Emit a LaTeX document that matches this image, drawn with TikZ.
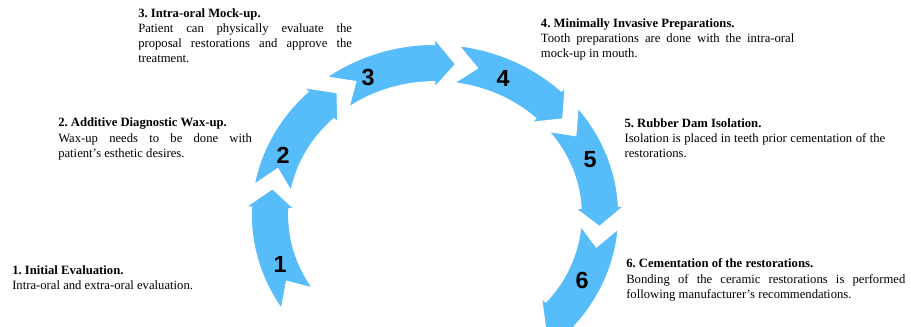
\documentclass[tikz,border=0pt]{standalone}
\usepackage{fontspec}
\setmainfont{Liberation Serif}
\newfontfamily\numfont{Liberation Sans}
\usetikzlibrary{calc}
\definecolor{arcblue}{RGB}{86,188,250}
\frenchspacing

\begin{document}
\begin{tikzpicture}[
        x=0.75pt, y=-0.75pt,
        every node/.style={font=\fontsize{9.5}{11.3}\selectfont},
        note/.style={anchor=base west, inner sep=0pt, text width=#1, align=justify},
        num/.style={font=\numfont\bfseries\fontsize{17.5}{17.5}\selectfont, inner sep=0pt},
        seg/.style={fill=arcblue, draw=white, line width=1.3pt, line join=miter}
    ]
    \useasboundingbox (0,0) rectangle (911,327);

% --- Ring of six arrows ---
    \coordinate (c) at (435,215);
    \def\rx{165} \def\ry{152}
    \pgfmathsetmacro\rxo{\rx+19} \pgfmathsetmacro\ryo{\ry+19}
    \pgfmathsetmacro\rxi{\rx-19} \pgfmathsetmacro\ryi{\ry-19}
    \pgfmathsetmacro\rxwo{\rx+25} \pgfmathsetmacro\rywo{\ry+25}
    \pgfmathsetmacro\rxwi{\rx-25} \pgfmathsetmacro\rywi{\ry-25}
    \begin{scope}[shift={(c)}]
    \foreach \k in {6,5,...,1}{
        \pgfmathsetmacro\angs{146.5+43.6*(\k-1)}
        \pgfmathsetmacro\ange{\angs+43.6}
        \pgfmathsetmacro\angn{\angs+7.5}
        \pgfmathsetmacro\angh{\ange-7.5}
        \path[seg] ({\angs}:{\rxo} and {\ryo}) -- ({\angn}:{\rx} and {\ry}) -- ({\angs}:{\rxi} and {\ryi})
            arc[start angle=\angs, end angle=\angh, x radius=\rxi, y radius=\ryi]
            -- ({\angh}:{\rxwi} and {\rywi}) -- ({\ange}:{\rx} and {\ry}) -- ({\angh}:{\rxwo} and {\rywo})
            -- ({\angh}:{\rxo} and {\ryo})
            arc[start angle=\angh, end angle=\angs, x radius=\rxo, y radius=\ryo] -- cycle;
    }
    \end{scope}

% --- Step numbers ---
    \node[num] (n1) at (280,264) {1};
    \node[num] (n2) at (283,155) {2};
    \node[num] (n3) at (368,77) {3};
    \node[num] (n4) at (503,78) {4};
    \node[num] (n5) at (590,160) {5};
    \node[num] (n6) at (582,280) {6};

% --- Step descriptions ---
    \node[note=150pt] (s1) at (12,274.4)
        {\textbf{1. Initial Evaluation.}\\
        Intra-oral and extra-oral evaluation.};
    \node[note=145.3pt] (s2) at (58,127)
        {\textbf{2. Additive Diagnostic Wax-up.}\\
        Wax-up needs to be done with\linebreak patient's esthetic desires.};
    \node[note=160.3pt] (s3) at (138,17.5)
        {\textbf{3. Intra-oral Mock-up.}\\
        Patient can physically evaluate the\linebreak proposal restorations and approve the\linebreak treatment.};
    \node[note=190pt] (s4) at (540.7,27.5)
        {\textbf{4. Minimally Invasive Preparations.}\\
        Tooth preparations are done with the intra-oral\linebreak mock-up in mouth.};
    \node[note=195.5pt] (s5) at (624.3,127.5)
        {\textbf{5. Rubber Dam Isolation.}\\
        Isolation is placed in teeth prior cementation of the\linebreak restorations.};
    \node[note=209.3pt] (s6) at (626,268)
        {\textbf{6. Cementation of the restorations.}\\
        Bonding of the ceramic restorations is performed\linebreak following manufacturer's recommendations.};
\end{tikzpicture}
\end{document}
